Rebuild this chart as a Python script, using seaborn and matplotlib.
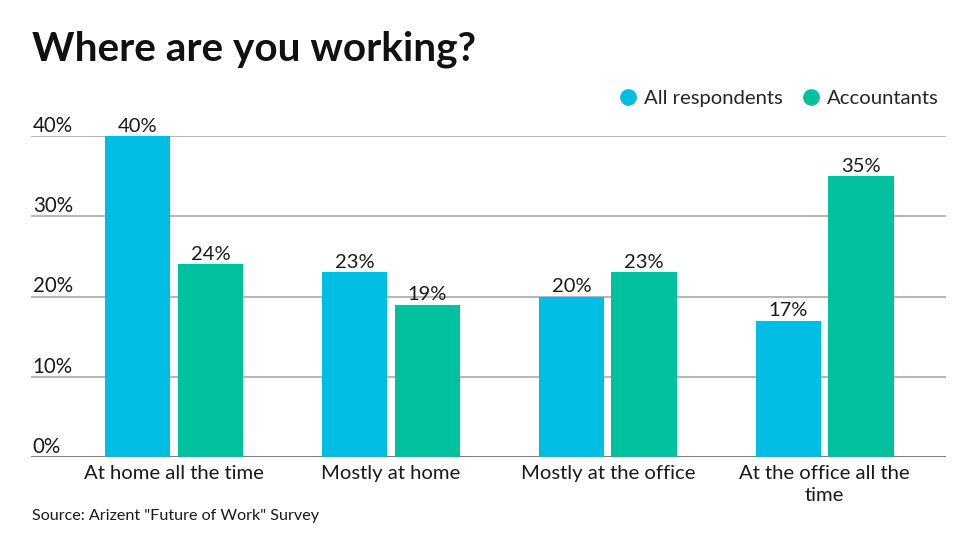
import matplotlib
matplotlib.use("Agg")
import matplotlib.pyplot as plt
from matplotlib.lines import Line2D
import seaborn as sns
import pandas as pd

categories = ["At home all the time", "Mostly at home", "Mostly at the office",
              "At the office all the\ntime"]
all_respondents = [40, 23, 20, 17]
accountants = [24, 19, 23, 35]
series_names = ["All respondents", "Accountants"]
colors = ["#00BDE3", "#00C19E"]
yticks = [0, 10, 20, 30, 40]

df = pd.DataFrame({
    "category": categories * 2,
    "value": all_respondents + accountants,
    "series": [series_names[0]] * 4 + [series_names[1]] * 4,
})

sns.set_theme(style="white")
plt.rcParams["font.family"] = ["Lato", "DejaVu Sans"]

fig = plt.figure(figsize=(9.78, 5.5), dpi=100)
ax = fig.add_axes([31 / 978, 93 / 550, 915 / 978, 321 / 550])

sns.barplot(data=df, x="category", y="value", hue="series", palette=colors,
            width=0.67, gap=0.1, saturation=1, legend=False, linewidth=0, ax=ax)

for c in ax.containers:
    ax.bar_label(c, labels=[f"{v:.0f}%" for v in c.datavalues], fontsize=14.5,
                 color="#1a1a1a", padding=1)

ax.set_ylim(0, 40)
ax.set_xlim(-0.66, 3.56)
ax.set_yticks([])
for t in yticks:
    ax.axhline(t, color="#666666" if t == 0 else "#aaaaaa", lw=1.2, zorder=0)
    ax.text(0.002, t, f"{t}%", transform=ax.get_yaxis_transform(),
            ha="left", va="bottom", fontsize=14.8, color="#1a1a1a")

ax.set_xlabel("")
ax.set_ylabel("")
ax.tick_params(axis="x", length=0, pad=6, labelsize=14.6, labelcolor="#1a1a1a")
for lbl in ax.get_xticklabels():
    lbl.set_linespacing(1.35)
sns.despine(ax=ax, left=True, bottom=True, top=True, right=True)

fig.text(32 / 978, 1 - 49 / 550, "Where are you working?", fontsize=29.2,
         fontweight="bold", va="center", ha="left", color="#111111")
fig.text(32 / 978, 1 - 516 / 550, 'Source: Arizent "Future of Work" Survey',
         fontsize=11.6, va="center", ha="left", color="#1a1a1a")

handles = [Line2D([], [], marker="o", linestyle="", markersize=11,
                  markerfacecolor=c, markeredgecolor=c) for c in colors]
fig.legend(handles, series_names, loc="center right",
           bbox_to_anchor=(939 / 978, 1 - 98 / 550), ncol=2, frameon=False,
           fontsize=14.6, handletextpad=0.2, columnspacing=0.8,
           borderaxespad=0, borderpad=0, handlelength=1.2)

fig.savefig("out.png", dpi=100)
